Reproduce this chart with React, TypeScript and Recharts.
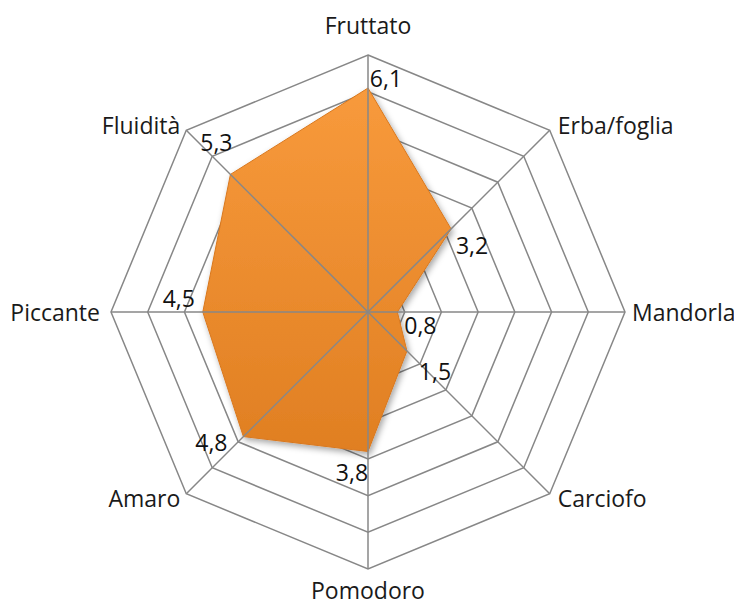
import React from "react";
import { RadarChart, Radar, PolarGrid, PolarAngleAxis, PolarRadiusAxis, LabelList } from "recharts";

const categories = ["Fruttato", "Erba/foglia", "Mandorla", "Carciofo", "Pomodoro", "Amaro", "Piccante", "Fluidità"];
const values = [6.1, 3.2, 0.8, 1.5, 3.8, 4.8, 4.5, 5.3];
const valueLabels = ["6,1", "3,2", "0,8", "1,5", "3,8", "4,8", "4,5", "5,3"];
const axisMax = 7;

const data = categories.map((c, i) => ({ name: c, value: values[i], label: valueLabels[i], max: axisMax }));

const FONT = "'Open Sans', sans-serif";
const OUTER = 257;
const labelOffsets: [number, number][] = [
  [18, -10], [21, 16], [23, 13], [28, 20], [-16, 20], [-32, 5], [-24, -14], [-14, -32],
];

const AngleTick = (props: any) => {
  const { x, y, payload, cx, cy } = props;
  const dx = x - cx;
  const dy = y - cy;
  const r = Math.sqrt(dx * dx + dy * dy) || 1;
  const ux = dx / r;
  const uy = dy / r;
  const bx = cx + ux * OUTER;
  const by = cy + uy * OUTER;
  let anchor = "middle";
  if (ux > 0.1) anchor = "start";
  else if (ux < -0.1) anchor = "end";
  const diag = Math.abs(ux) > 0.1 && Math.abs(uy) > 0.1;
  let ox = 0;
  let oy = 0;
  if (anchor === "start") ox = diag ? 8 : 7;
  if (anchor === "end") ox = diag ? -6 : -11;
  if (Math.abs(ux) <= 0.1) oy = uy < 0 ? -30 : 21;
  else if (diag) oy = uy < 0 ? -5 : 4;
  return (
    <text x={bx + ox} y={by + oy} textAnchor={anchor} dominantBaseline="central" fontSize={23} fill="#1a1a1a" fontFamily={FONT}>
      {payload.value}
    </text>
  );
};

const ValueLabel = (props: any) => {
  const { x, y, value, index } = props;
  const off = labelOffsets[index] || [0, 0];
  return (
    <text x={x + off[0]} y={y + off[1]} textAnchor="middle" dominantBaseline="central" fontSize={23} fill="#111" fontFamily={FONT}>
      {value}
    </text>
  );
};

const SpokeShape = (props: any) => {
  const pts = props.points || [];
  return (
    <g>
      {pts.map((p: any, i: number) => (
        <line key={i} x1={p.cx} y1={p.cy} x2={p.x} y2={p.y} stroke="#878787" strokeWidth={1.5} />
      ))}
    </g>
  );
};

export default function App() {
  return (
    <div style={{ width: 742, height: 606, margin: "-8px 0 0 -8px", background: "#fff" }}>
      <RadarChart width={742} height={606} data={data} cx={368} cy={312} outerRadius={OUTER} startAngle={90} endAngle={-270} margin={{ top: 0, right: 0, bottom: 0, left: 0 }}>
        <defs>
          <linearGradient id="orangeFill" x1="0" y1="0" x2="0" y2="1">
            <stop offset="0%" stopColor="#F89A3C" />
            <stop offset="100%" stopColor="#E07F22" />
          </linearGradient>
          <filter id="shadow" x="-20%" y="-20%" width="140%" height="140%">
            <feDropShadow dx="2" dy="3" stdDeviation="3" floodColor="#000" floodOpacity="0.35" />
          </filter>
        </defs>
        <PolarGrid gridType="polygon" radialLines={false} stroke="#878787" strokeWidth={1.5} strokeOpacity={1} />
        <PolarRadiusAxis domain={[0, axisMax]} tickCount={8} tick={false} axisLine={false} />
        <PolarAngleAxis dataKey="name" tick={<AngleTick />} tickLine={false} axisLine={false} />
        <Radar dataKey="value" fill="url(#orangeFill)" fillOpacity={1} stroke="#D9781E" strokeWidth={1} isAnimationActive={false} style={{ filter: "url(#shadow)" }}>
          <LabelList dataKey="label" content={<ValueLabel />} />
        </Radar>
        <Radar dataKey="max" fill="none" stroke="none" isAnimationActive={false} shape={<SpokeShape />} />
      </RadarChart>
    </div>
  );
}
